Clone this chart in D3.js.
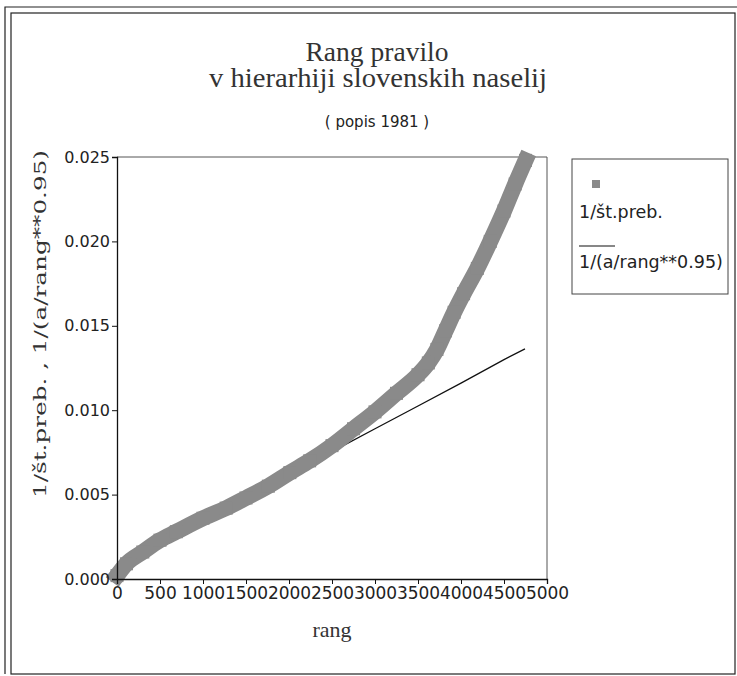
<!DOCTYPE html>
<html>
<head>
<meta charset="utf-8">
<script src="https://cdn.jsdelivr.net/npm/d3@7"></script>
<style>
  body { margin: 0; background: #fff; }
  svg { display: block; }
</style>
</head>
<body>
<div id="chart"></div>
<script>
// values
const rang = [0, 110, 300, 500, 690, 1000, 1270, 1500, 1760, 2010, 2240, 2500, 2750, 3000, 3250, 3500, 3620, 3720, 3820, 3920, 4030, 4190, 4340, 4500, 4630, 4750];
const stPreb = [0.0002, 0.0009, 0.0016, 0.0023, 0.0028, 0.0036, 0.0042, 0.0048, 0.0055, 0.0063, 0.0070, 0.0079, 0.0089, 0.0099, 0.0110, 0.0121, 0.0128, 0.0136, 0.0147, 0.0158, 0.0169, 0.0184, 0.0200, 0.0218, 0.0234, 0.0248];
const fitRang = [0, 500, 1000, 1500, 2000, 2500, 3000, 3500, 4000, 4500, 4744];
const fitVal = [0.0002, 0.0022, 0.0035, 0.0048, 0.0062, 0.00755, 0.0089, 0.01025, 0.0116, 0.0130, 0.01363];
const xTicks = [0, 500, 1000, 1500, 2000, 2500, 3000, 3500, 4000, 4500, 5000];
const yTicks = [0, 0.005, 0.010, 0.015, 0.020, 0.025];
const legendLabels = ['1/št.preb.', '1/(a/rang**0.95)'];

const width = 737;
const height = 676;
const plot = { left: 117, right: 547, top: 157, bottom: 579 };

const svg = d3.select('#chart')
  .append('svg')
  .attr('width', width)
  .attr('height', height);

svg.append('rect')
  .attr('width', width)
  .attr('height', height)
  .attr('fill', '#fff');

// double page border
svg.append('rect')
  .attr('x', 11).attr('y', 13)
  .attr('width', 724).attr('height', 661)
  .attr('fill', 'none')
  .attr('stroke', '#222')
  .attr('stroke-width', 1.2);
svg.append('path')
  .attr('d', 'M5,674 V7 H737')
  .attr('fill', 'none')
  .attr('stroke', '#222')
  .attr('stroke-width', 1.2);

const x = d3.scaleLinear()
  .domain([0, 5000])
  .range([plot.left, plot.right]);
const y = d3.scaleLinear()
  .domain([0, 0.025])
  .range([plot.bottom, plot.top]);

// titles
const serif = '"Liberation Serif", "Times New Roman", serif';
const sans = '"DejaVu Sans", sans-serif';
svg.append('text')
  .attr('x', 377).attr('y', 61)
  .attr('text-anchor', 'middle')
  .attr('font-family', serif)
  .attr('font-size', 27)
  .attr('fill', '#333')
  .attr('textLength', 143)
  .attr('lengthAdjust', 'spacingAndGlyphs')
  .text('Rang pravilo');
svg.append('text')
  .attr('x', 378).attr('y', 87)
  .attr('text-anchor', 'middle')
  .attr('font-family', serif)
  .attr('font-size', 27)
  .attr('fill', '#333')
  .attr('textLength', 338)
  .attr('lengthAdjust', 'spacingAndGlyphs')
  .text('v hierarhiji slovenskih naselij');
svg.append('text')
  .attr('x', 377).attr('y', 127)
  .attr('text-anchor', 'middle')
  .attr('font-family', sans)
  .attr('font-size', 15)
  .attr('fill', '#222')
  .text('( popis 1981 )');

// plot frame (top and right)
svg.append('path')
  .attr('d', `M${plot.left},${plot.top} H${plot.right} V${plot.bottom}`)
  .attr('fill', 'none')
  .attr('stroke', '#555')
  .attr('stroke-width', 1);

// fitted curve goes under the markers
const fitData = fitRang.map((r, i) => ({ r: r, v: fitVal[i] }));
svg.append('path')
  .datum(fitData)
  .attr('fill', 'none')
  .attr('stroke', '#111')
  .attr('stroke-width', 1.3)
  .attr('d', d3.line()
    .x(d => x(d.r))
    .y(d => y(d.v)));

// observed values: dense band of square markers
const obsData = rang.map((r, i) => ({ r: r, v: stPreb[i] }));
svg.append('path')
  .datum(obsData)
  .attr('fill', 'none')
  .attr('stroke', '#8a8a8a')
  .attr('stroke-width', 16)
  .attr('stroke-linejoin', 'round')
  .attr('stroke-linecap', 'square')
  .attr('d', d3.line()
    .x(d => x(d.r))
    .y(d => y(d.v))
    .curve(d3.curveMonotoneX));
svg.append('g')
  .selectAll('rect')
  .data(obsData)
  .join('rect')
  .attr('x', d => x(d.r) - 6.5)
  .attr('y', d => y(d.v) - 6.5)
  .attr('width', 13)
  .attr('height', 13)
  .attr('fill', '#8a8a8a');

// axes
const xAxis = svg.append('g')
  .attr('transform', `translate(0, ${plot.bottom})`)
  .call(d3.axisBottom(x).tickValues(xTicks).tickSize(5).tickFormat(d3.format('d')));
const yAxis = svg.append('g')
  .attr('transform', `translate(${plot.left}, 0)`)
  .call(d3.axisLeft(y).tickValues(yTicks).tickSize(5).tickFormat(d3.format('.3f')));
[xAxis, yAxis].forEach(function (g) {
  g.select('.domain').attr('stroke', '#111').attr('stroke-width', 1.3);
  g.selectAll('.tick line').attr('stroke', '#111');
  g.selectAll('.tick text')
    .attr('font-family', sans)
    .attr('font-size', 16)
    .attr('fill', '#222');
});
xAxis.selectAll('.tick text').attr('font-size', 17).attr('dy', '0.7em');
yAxis.selectAll('.tick text').attr('x', -7);

// axis titles
svg.append('text')
  .attr('x', 332).attr('y', 637)
  .attr('text-anchor', 'middle')
  .attr('font-family', serif)
  .attr('font-size', 22)
  .attr('fill', '#333')
  .text('rang');
svg.append('text')
  .attr('transform', 'translate(46, 324) rotate(-90)')
  .attr('text-anchor', 'middle')
  .attr('font-family', '"DejaVu Serif", serif')
  .attr('font-size', 17)
  .attr('fill', '#333')
  .attr('textLength', 348)
  .attr('lengthAdjust', 'spacingAndGlyphs')
  .text('1/št.preb. , 1/(a/rang**0.95)');

// legend
const legend = svg.append('g');
legend.append('rect')
  .attr('x', 572).attr('y', 159)
  .attr('width', 156).attr('height', 135)
  .attr('fill', '#fff')
  .attr('stroke', '#444')
  .attr('stroke-width', 1);
legend.append('rect')
  .attr('x', 592).attr('y', 180)
  .attr('width', 8).attr('height', 8)
  .attr('fill', '#8a8a8a');
legend.append('line')
  .attr('x1', 579).attr('x2', 615)
  .attr('y1', 246).attr('y2', 246)
  .attr('stroke', '#111')
  .attr('stroke-width', 1.2);
legend.selectAll('text.lab')
  .data(legendLabels)
  .join('text')
  .attr('class', 'lab')
  .attr('x', 579)
  .attr('y', (d, i) => i === 0 ? 218 : 268)
  .attr('font-family', sans)
  .attr('font-size', 17.5)
  .attr('fill', '#222')
  .text(d => d);
</script>
</body>
</html>
